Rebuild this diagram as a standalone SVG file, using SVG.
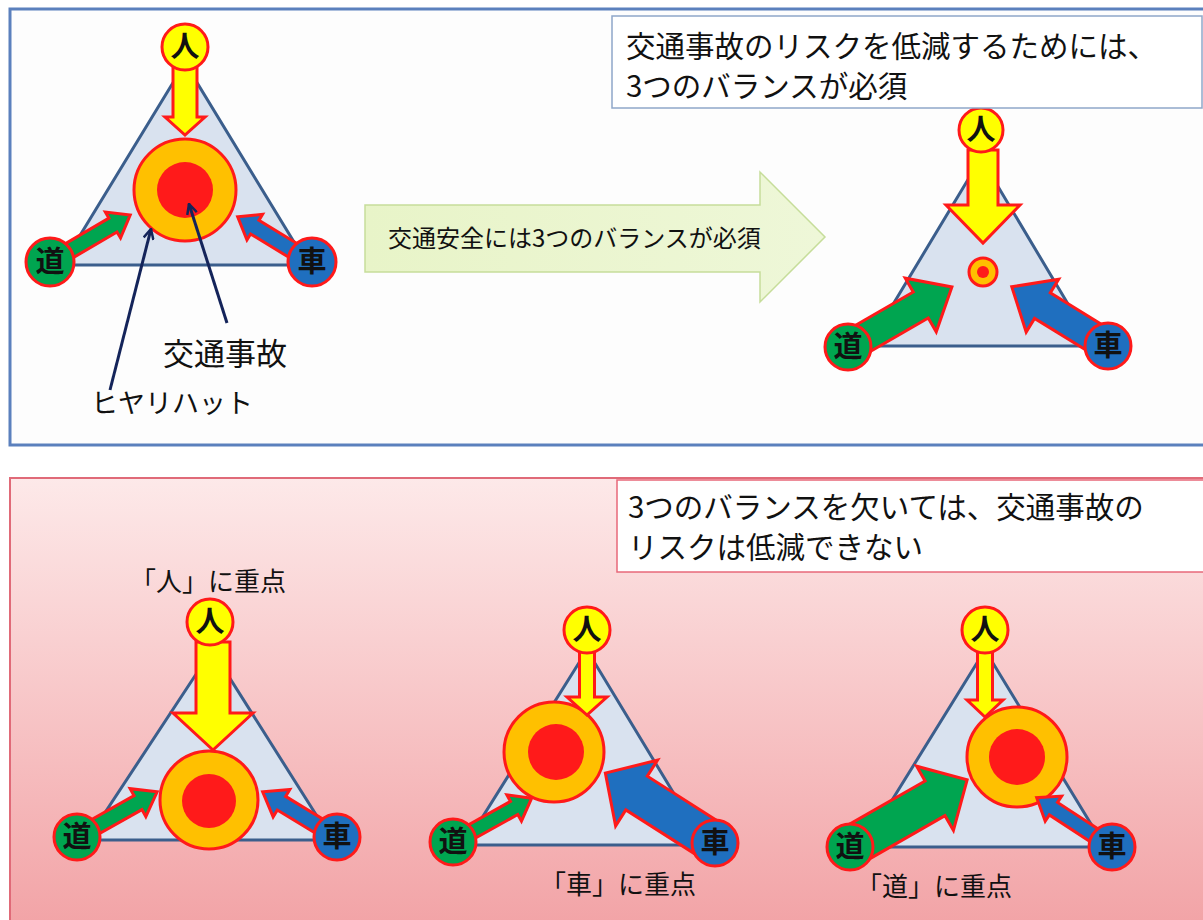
<svg xmlns="http://www.w3.org/2000/svg" width="1203" height="920" viewBox="0 0 1203 920">
<defs>
<linearGradient id="pinkbg" x1="0" y1="0" x2="0" y2="1">
<stop offset="0" stop-color="#fde9e9"/>
<stop offset="1" stop-color="#f2a3a6"/>
</linearGradient>
<linearGradient id="greenarrow" x1="0" y1="0" x2="1" y2="0">
<stop offset="0" stop-color="#e8f4c8"/>
<stop offset="1" stop-color="#eef7d8"/>
</linearGradient>
<marker id="vhead" viewBox="0 0 12 12" refX="11" refY="6" markerWidth="12" markerHeight="12" markerUnits="userSpaceOnUse" orient="auto">
<path d="M1,1 L11,6 L1,11" fill="none" stroke="#14245a" stroke-width="2.5"/>
</marker>
<style>
.t{font-family:"Noto Sans CJK JP","Noto Sans",sans-serif;fill:#111;}
.big{font-size:29.5px;}
.lbl{font-size:29px;text-anchor:middle;font-weight:bold;}
.node{stroke:#ff1a1a;stroke-width:3;}
.hito{fill:#ffff00;}
.michi{fill:#00a550;}
.kuruma{fill:#1f6fbf;}
.tri{fill:#d9e2ef;stroke:#3b5e8c;stroke-width:3;stroke-linejoin:miter;}
.ring{fill:#ffc000;stroke:#ff1a1a;stroke-width:3;}
.core{fill:#ff1a1a;}
.ya{fill:#ffff00;stroke:#ff1a1a;stroke-width:3;stroke-linejoin:miter;}
.ga{fill:#00a550;stroke:#ff1a1a;stroke-width:3;stroke-linejoin:miter;}
.ba{fill:#1f6fbf;stroke:#ff1a1a;stroke-width:3;stroke-linejoin:miter;}
.ptr{stroke:#14245a;stroke-width:3;fill:none;marker-end:url(#vhead);}
</style>
</defs>

<!-- panels -->
<g id="panel-top">
<rect x="10" y="9" width="1200" height="436" fill="#fdfdfd" stroke="#5b80bd" stroke-width="3"/>
</g>
<g id="panel-bottom">
<rect x="10" y="478" width="1200" height="450" fill="url(#pinkbg)" stroke="#e06a78" stroke-width="2"/>
</g>

<!-- triangles -->
<g id="tri-tl"><polygon class="tri" points="185,63 62,265 308,265"/></g>
<g id="tri-tr"><polygon class="tri" points="981,158 868,346 1093,346"/></g>
<g id="tri-bl"><polygon class="tri" points="212,650 87,840 332,840"/></g>
<g id="tri-bm"><polygon class="tri" points="587,650 465,845 705,845"/></g>
<g id="tri-br"><polygon class="tri" points="985,650 863,847 1105,847"/></g>

<!-- center circles -->
<g id="center-tl"><circle class="ring" cx="185" cy="190" r="51"/><circle class="core" cx="185" cy="190" r="28"/></g>
<g id="center-tr"><circle class="ring" cx="983" cy="272" r="14"/><circle class="core" cx="983" cy="272" r="6"/></g>
<g id="center-bl"><circle class="ring" cx="209" cy="800" r="49"/><circle class="core" cx="209" cy="801" r="27"/></g>
<g id="center-bm"><circle class="ring" cx="554" cy="752" r="50"/><circle class="core" cx="556" cy="752" r="28"/></g>
<g id="center-br"><circle class="ring" cx="1017" cy="757" r="50"/><circle class="core" cx="1017" cy="757" r="28"/></g>

<!-- connectors -->
<g id="connectors">
<polygon class="ya" transform="translate(185,66) rotate(90)" points="0,-12 51,-12 51,-20 69,0 51,20 51,12 0,12"/>
<polygon class="ga" transform="translate(50,262) rotate(-30.4)" points="0,-8 73,-8 73,-15 93,0 73,15 73,8 0,8"/>
<polygon class="ba" transform="translate(312,262) rotate(-148.7)" points="0,-8 67,-8 67,-15 87,0 67,15 67,8 0,8"/>
<line class="ptr" x1="110" y1="390" x2="151" y2="229"/>
<line class="ptr" x1="227" y1="323" x2="189" y2="204"/>
<polygon class="ya" transform="translate(983,150) rotate(90)" points="0,-15 55,-15 55,-37 93,0 55,37 55,15 0,15"/>
<polygon class="ga" transform="translate(848,347) rotate(-30)" points="0,-15 84,-15 84,-31 120,0 84,31 84,15 0,15"/>
<polygon class="ba" transform="translate(1108,346) rotate(-148.4)" points="0,-15 77,-15 77,-31 113,0 77,31 77,15 0,15"/>
<polygon class="ya" transform="translate(213,642) rotate(90)" points="0,-17 71,-17 71,-40 108,0 71,40 71,17 0,17"/>
<polygon class="ga" transform="translate(77,837) rotate(-29.4)" points="0,-8 70,-8 70,-16 92,0 70,16 70,8 0,8"/>
<polygon class="ba" transform="translate(337,837) rotate(-148.7)" points="0,-8 65,-8 65,-16 87,0 65,16 65,8 0,8"/>
<polygon class="ya" transform="translate(587,650) rotate(90)" points="0,-7.5 47,-7.5 47,-20 65,0 47,20 47,7.5 0,7.5"/>
<polygon class="ga" transform="translate(453,842) rotate(-29.1)" points="0,-7.5 70,-7.5 70,-15 90,0 70,15 70,7.5 0,7.5"/>
<polygon class="ba" transform="translate(715,843) rotate(-147.5)" points="0,-20 93,-20 93,-39 130,0 93,39 93,20 0,20"/>
<polygon class="ya" transform="translate(985,650) rotate(90)" points="0,-7.5 50,-7.5 50,-18 67,0 50,18 50,7.5 0,7.5"/>
<polygon class="ga" transform="translate(850,847) rotate(-29.8)" points="0,-20 98,-20 98,-37 135,0 98,37 98,20 0,20"/>
<polygon class="ba" transform="translate(1112,847) rotate(-146.8)" points="0,-7.5 70,-7.5 70,-15 90,0 70,15 70,7.5 0,7.5"/>
</g>

<!-- nodes -->
<g id="hito-tl"><circle class="node hito" cx="185" cy="47" r="23"/><text class="t lbl" x="185" y="57">人</text></g>
<g id="michi-tl"><circle class="node michi" cx="50" cy="262" r="24"/><text class="t lbl" x="50" y="272">道</text></g>
<g id="kuruma-tl"><circle class="node kuruma" cx="312" cy="262" r="24"/><text class="t lbl" x="312" y="272">車</text></g>

<g id="hito-tr"><circle class="node hito" cx="981" cy="130" r="22"/><text class="t lbl" x="981" y="140">人</text></g>
<g id="michi-tr"><circle class="node michi" cx="848" cy="347" r="23"/><text class="t lbl" x="848" y="357">道</text></g>
<g id="kuruma-tr"><circle class="node kuruma" cx="1108" cy="346" r="23"/><text class="t lbl" x="1108" y="356">車</text></g>

<g id="hito-bl"><circle class="node hito" cx="210" cy="622" r="23"/><text class="t lbl" x="210" y="632">人</text></g>
<g id="michi-bl"><circle class="node michi" cx="77" cy="837" r="23"/><text class="t lbl" x="77" y="847">道</text></g>
<g id="kuruma-bl"><circle class="node kuruma" cx="337" cy="837" r="23"/><text class="t lbl" x="337" y="847">車</text></g>

<g id="hito-bm"><circle class="node hito" cx="587" cy="630" r="23"/><text class="t lbl" x="587" y="640">人</text></g>
<g id="michi-bm"><circle class="node michi" cx="453" cy="842" r="23"/><text class="t lbl" x="453" y="852">道</text></g>
<g id="kuruma-bm"><circle class="node kuruma" cx="715" cy="843" r="23"/><text class="t lbl" x="715" y="853">車</text></g>

<g id="hito-br"><circle class="node hito" cx="985" cy="630" r="23"/><text class="t lbl" x="985" y="640">人</text></g>
<g id="michi-br"><circle class="node michi" cx="850" cy="847" r="23"/><text class="t lbl" x="850" y="857">道</text></g>
<g id="kuruma-br"><circle class="node kuruma" cx="1112" cy="847" r="23"/><text class="t lbl" x="1112" y="857">車</text></g>

<!-- labels -->
<g id="label-jiko"><text class="t" x="163" y="365" font-size="31">交通事故</text></g>
<g id="label-hiyari"><text class="t" x="91" y="413" font-size="27">ヒヤリハット</text></g>

<g id="big-arrow">
<polygon points="365,205 760,205 760,172 825,237 760,302 760,272 365,272" fill="url(#greenarrow)" stroke="#c6dd9a" stroke-width="1.5"/>
<text class="t" x="388" y="247" font-size="24">交通安全には3つのバランスが必須</text>
</g>

<g id="box-top">
<rect x="612" y="16" width="590" height="92" fill="#ffffff" stroke="#8fa7c9" stroke-width="1.5"/>
<text class="t big" x="626" y="57">交通事故のリスクを低減するためには、</text>
<text class="t big" x="626" y="97">3つのバランスが必須</text>
</g>
<g id="box-bottom">
<rect x="617" y="480" width="590" height="92" fill="#ffffff" stroke="#e8687a" stroke-width="1.5"/>
<text class="t big" x="628" y="518">3つのバランスを欠いては、交通事故の</text>
<text class="t big" x="628" y="558">リスクは低減できない</text>
</g>

<g id="label-hito"><text class="t" x="130" y="591" font-size="26">「人」に重点</text></g>
<g id="label-kuruma"><text class="t" x="540" y="894" font-size="26">「車」に重点</text></g>
<g id="label-michi"><text class="t" x="856" y="896" font-size="26">「道」に重点</text></g>
</svg>
